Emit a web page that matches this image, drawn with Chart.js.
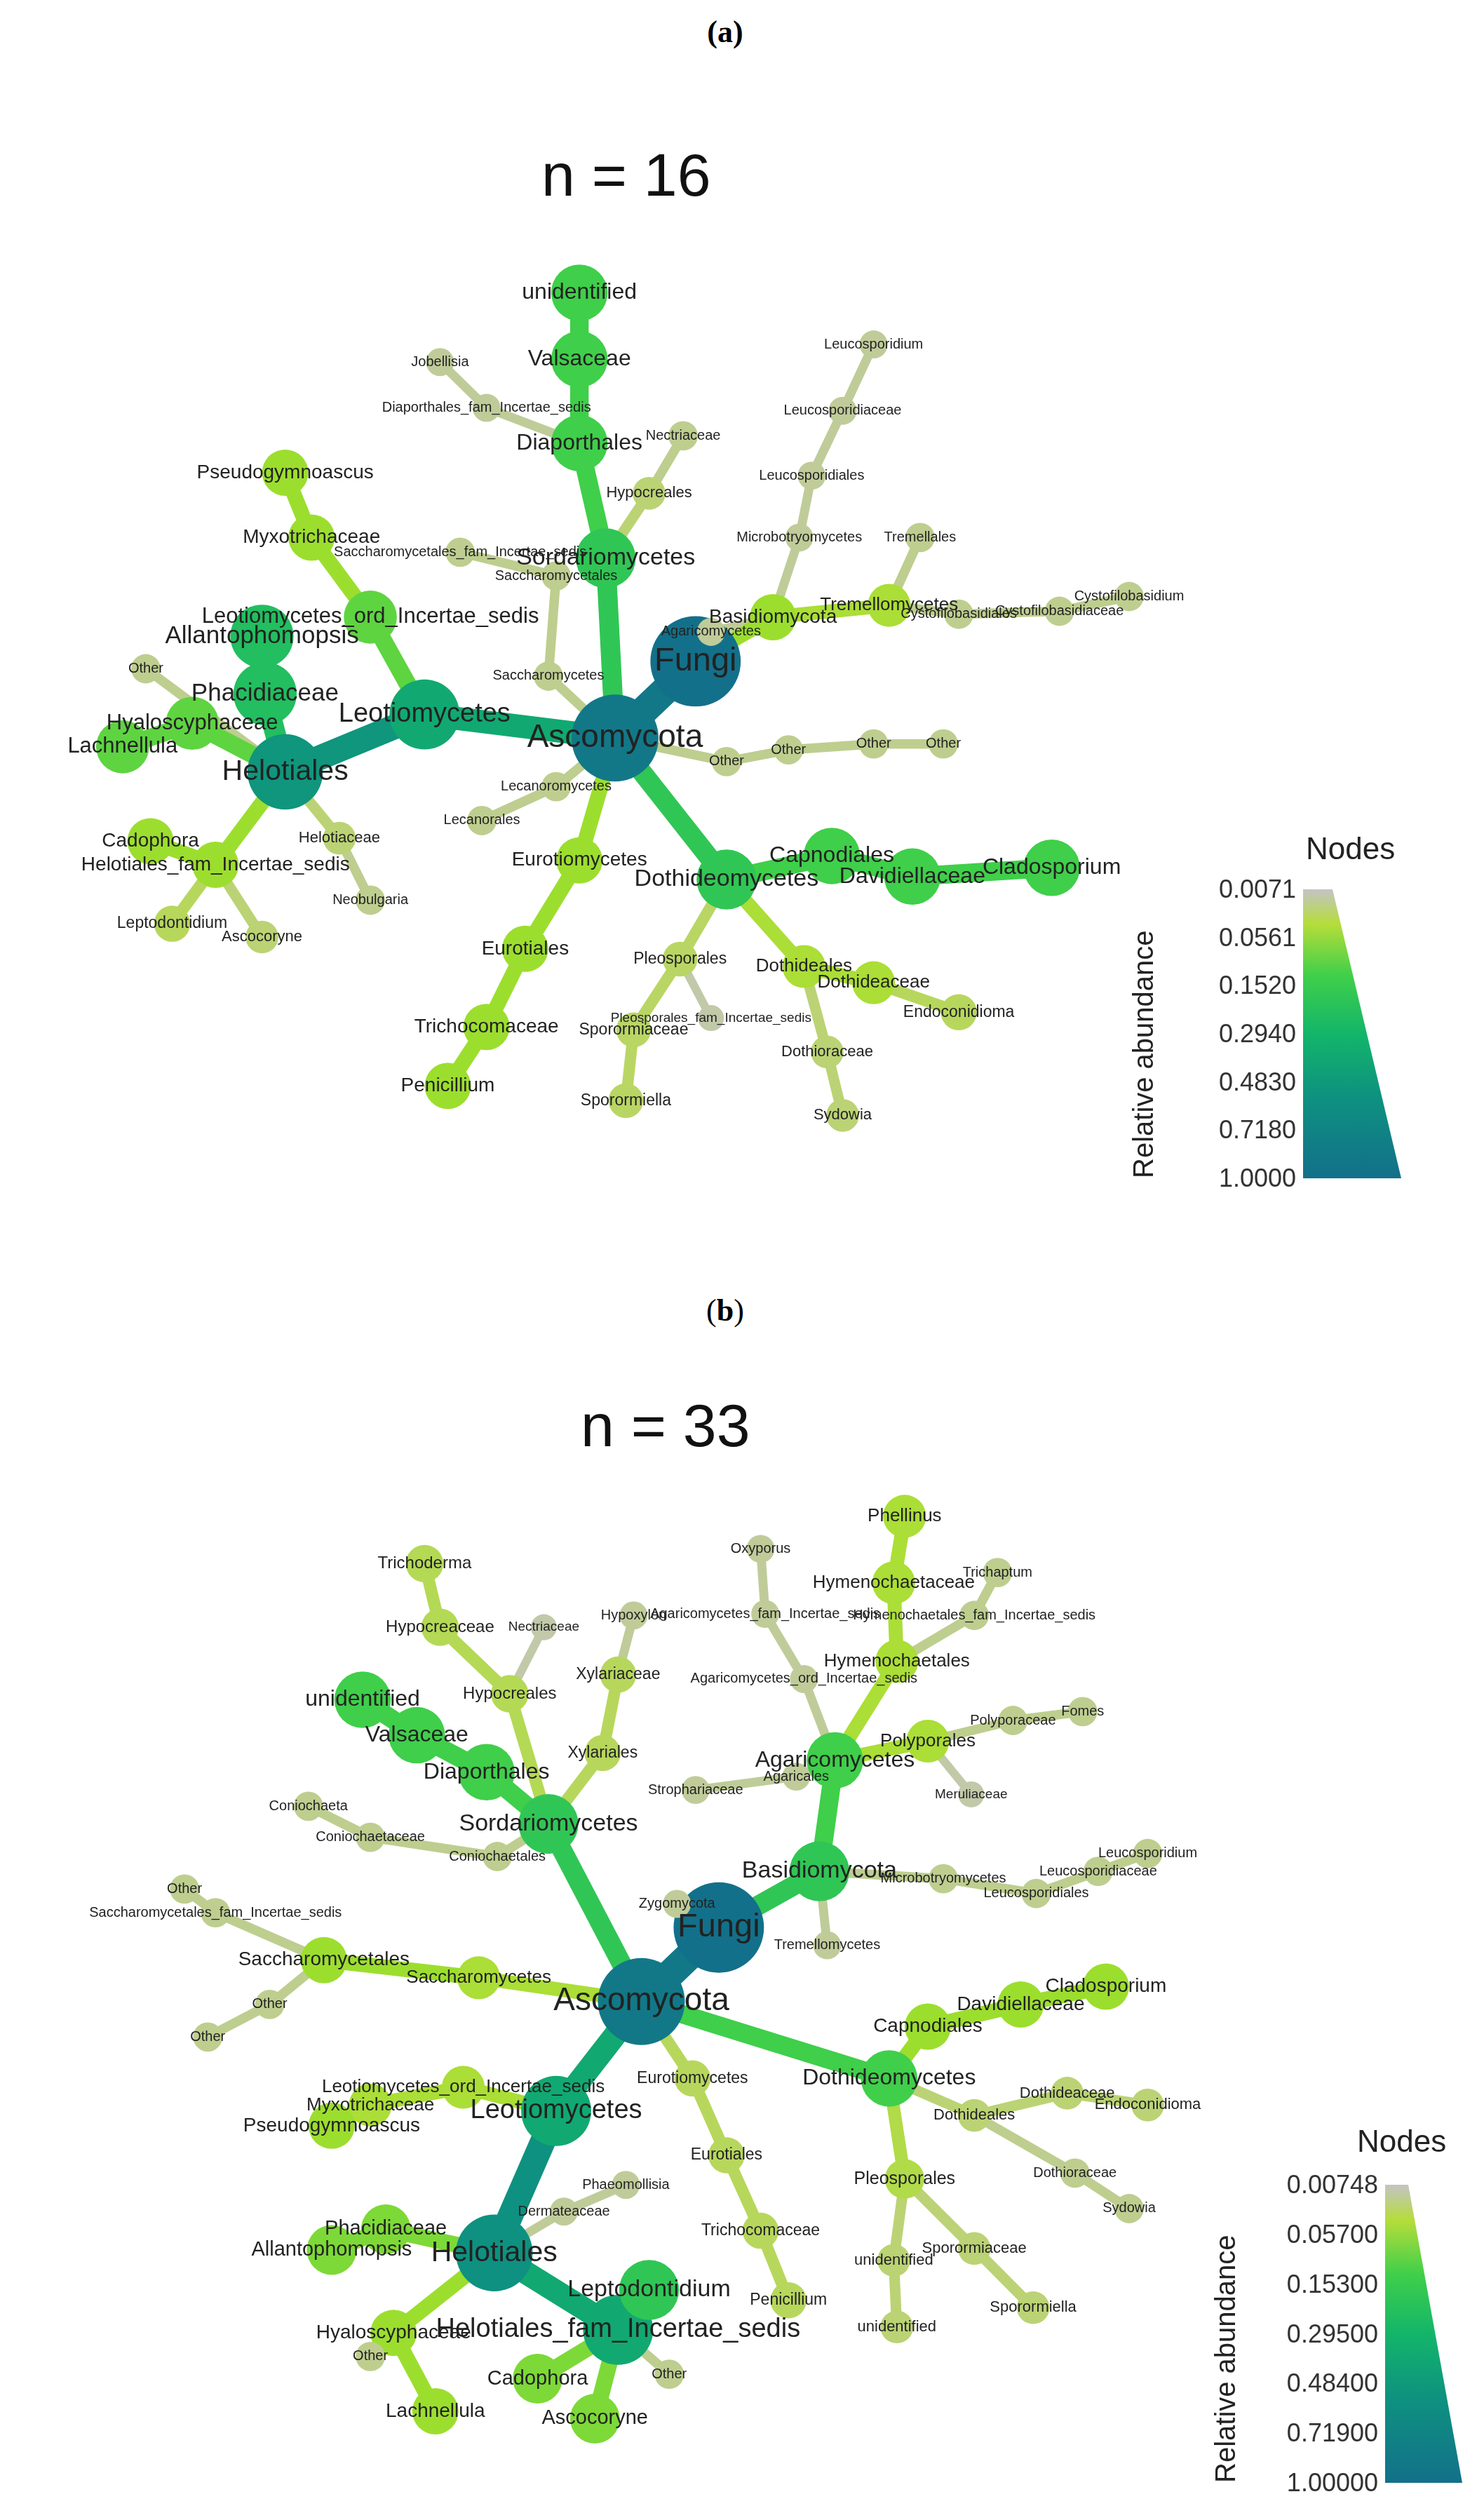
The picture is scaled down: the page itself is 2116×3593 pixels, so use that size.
<!DOCTYPE html>
<html lang="en">
<head>
<meta charset="UTF-8">
<title>Heat trees</title>
<script src="https://cdn.jsdelivr.net/npm/chart.js"></script>
<style>
  body { margin: 0; background: #fff; font-family: "Liberation Sans", Arial, sans-serif; }
  #page { position: relative; width: 2116px; height: 3593px; overflow: hidden; }
  .abs { position: absolute; }
  .panel { font-family: "Liberation Serif", serif; font-size: 44px; left: 0; width: 2068px; text-align: center; }
  .ntitle { font-size: 86px; color: #111; }
  .legTitle { font-size: 44px; color: #222; }
  .tick { font-size: 36px; color: #333; text-align: right; width: 200px; }
  .ylab { font-size: 40px; color: #222; transform: rotate(-90deg); transform-origin: left top; white-space: nowrap; }
  .bar { background: linear-gradient(to bottom, #c4c4c4 0%, #b5dd3a 12%, #3fcf4a 30%, #13b56a 50%, #0e9180 72%, #13708a 100%); }
</style>
</head>
<body>
<div id="page">
  <div class="abs panel" style="top:20px"><b>(a)</b></div>
  <div class="abs ntitle" style="left:772px;top:200px">n = 16</div>
  <canvas id="chartA" class="abs" style="left:0;top:206px" width="2116" height="1558"></canvas>

  <div class="abs panel" style="top:1843px">(<b>b</b>)</div>
  <div class="abs ntitle" style="left:828px;top:1983px">n = 33</div>
  <canvas id="chartB" class="abs" style="left:0;top:1971px" width="2116" height="1622"></canvas>
</div>
<script>
// ---- panel (a), n = 16 ----
const aNames = ["Fungi","Ascomycota","Basidiomycota","Sordariomycetes","Diaporthales","Valsaceae","unidentified",
  "Diaporthales_fam_Incertae_sedis","Jobellisia","Hypocreales","Nectriaceae","Saccharomycetes","Saccharomycetales",
  "Saccharomycetales_fam_Incertae_sedis","Leotiomycetes","Helotiales","Leotiomycetes_ord_Incertae_sedis","Myxotrichaceae",
  "Pseudogymnoascus","Phacidiaceae","Allantophomopsis","Hyaloscyphaceae","Lachnellula","Other","Helotiales_fam_Incertae_sedis",
  "Cadophora","Leptodontidium","Ascocoryne","Helotiaceae","Neobulgaria","Lecanoromycetes","Lecanorales","Eurotiomycetes",
  "Eurotiales","Trichocomaceae","Penicillium","Dothideomycetes","Capnodiales","Davidiellaceae","Cladosporium","Pleosporales",
  "Pleosporales_fam_Incertae_sedis","Sporormiaceae","Sporormiella","Dothideales","Dothideaceae","Endoconidioma","Dothioraceae",
  "Sydowia","Other","Other","Other","Other","Agaricomycetes","Microbotryomycetes","Leucosporidiales","Leucosporidiaceae",
  "Leucosporidium","Tremellomycetes","Tremellales","Cystofilobasidiales","Cystofilobasidiaceae","Cystofilobasidium"];
const aX = [420,368,470,362,345,345,345,285,255,390,412,325,330,268,245,155,210,172,155,142,140,95,50,65,110,68,82,140,190,210,
  330,282,345,310,285,260,440,508,560,650,410,430,380,375,490,535,590,505,515,440,480,535,580,430,487,495,515,535,545,565,590,655,700];
const aY = [410,462,380,340,262,205,160,238,207,296,257,420,352,336,446,485,380,326,282,432,393,452,468,415,548,532,588,597,530,572,
  495,518,545,605,658,698,558,542,556,550,612,652,660,708,617,628,648,675,718,478,470,466,466,390,326,284,240,195,372,326,378,376,366];
const aParent = [-1,0,0,1,3,4,5,4,7,3,9,1,11,12,1,14,14,16,17,15,19,15,21,15,15,24,24,24,15,28,1,30,1,32,33,34,1,36,37,38,36,40,40,42,
  36,44,45,44,47,1,49,50,51,2,2,54,55,56,2,58,58,60,61];
const aLevel = [1,.95,.35,.55,.5,.5,.5,.08,.08,.15,.1,.1,.1,.1,.7,.78,.45,.35,.35,.6,.6,.45,.45,.1,.35,.35,.2,.15,.15,.1,.1,.1,.35,.35,
  .35,.35,.55,.5,.5,.5,.18,.05,.18,.18,.3,.3,.2,.15,.15,.1,.1,.1,.1,.08,.08,.08,.08,.08,.3,.1,.1,.1,.1];
const aTicks = ["0.0071","0.0561","0.1520","0.2940","0.4830","0.7180","1.0000"];

// ---- panel (b), n = 33 ----
const bNames = ["Fungi","Ascomycota","Basidiomycota","Zygomycota","Tremellomycetes","Agaricomycetes","Agaricales","Strophariaceae",
  "Hymenochaetales","Hymenochaetaceae","Phellinus","Hymenochaetales_fam_Incertae_sedis","Trichaptum","Agaricomycetes_ord_Incertae_sedis",
  "Agaricomycetes_fam_Incertae_sedis","Oxyporus","Polyporales","Polyporaceae","Fomes","Meruliaceae","Microbotryomycetes",
  "Leucosporidiales","Leucosporidiaceae","Leucosporidium","Sordariomycetes","Diaporthales","Valsaceae","unidentified","Xylariales",
  "Xylariaceae","Hypoxylon","Hypocreales","Hypocreaceae","Trichoderma","Nectriaceae","Coniochaetales","Coniochaetaceae","Coniochaeta",
  "Saccharomycetes","Saccharomycetales","Saccharomycetales_fam_Incertae_sedis","Other","Other","Other","Leotiomycetes","Helotiales",
  "Leotiomycetes_ord_Incertae_sedis","Myxotrichaceae","Pseudogymnoascus","Phacidiaceae","Allantophomopsis","Dermateaceae",
  "Phaeomollisia","Hyaloscyphaceae","Lachnellula","Other","Helotiales_fam_Incertae_sedis","Leptodontidium","Cadophora","Ascocoryne",
  "Other","Eurotiomycetes","Eurotiales","Trichocomaceae","Penicillium","Dothideomycetes","Capnodiales","Davidiellaceae","Cladosporium",
  "Dothideales","Dothideaceae","Endoconidioma","Dothioraceae","Sydowia","Pleosporales","Sporormiaceae","Sporormiella","unidentified","unidentified"];
const bX = [435,385,500,408,505,510,485,420,550,548,555,600,615,490,465,462,570,625,670,598,580,640,680,712,325,285,240,205,360,370,380,
  300,255,245,322,292,210,170,280,180,110,90,145,105,330,290,270,210,185,220,185,335,375,225,252,210,370,390,318,355,403,418,440,462,480,
  545,570,630,685,600,660,712,665,700,555,600,638,548,550];
const bY = [1198,1248,1160,1182,1210,1085,1096,1105,1018,965,920,987,958,1030,986,942,1072,1058,1052,1108,1165,1175,1160,1148,1128,1093,
  1068,1044,1080,1027,987,1040,995,952,995,1150,1137,1116,1232,1220,1188,1172,1250,1272,1322,1418,1306,1318,1332,1402,1416,1390,1372,
  1472,1525,1488,1470,1443,1503,1530,1500,1300,1352,1403,1450,1300,1265,1250,1238,1325,1310,1318,1364,1388,1368,1415,1455,1423,1468];
const bParent = [-1,0,0,0,2,2,5,6,5,8,9,8,11,5,13,14,5,16,17,16,2,20,21,22,1,24,25,26,24,28,29,24,31,32,31,24,35,36,1,38,39,40,39,42,1,44,
  44,46,47,45,49,45,51,45,53,53,45,56,56,56,56,1,61,62,63,1,65,66,67,65,69,70,69,72,65,74,75,74,77];
const bLevel = [1,.95,.55,.08,.08,.5,.08,.08,.3,.3,.3,.1,.1,.08,.08,.08,.3,.1,.1,.05,.1,.1,.1,.1,.55,.5,.5,.5,.2,.2,.08,.22,.22,.22,.05,.1,
  .1,.1,.3,.35,.1,.1,.1,.1,.7,.8,.3,.3,.35,.4,.4,.08,.08,.35,.35,.1,.7,.55,.4,.4,.1,.2,.2,.2,.2,.5,.35,.35,.35,.15,.15,.15,.1,.1,.25,.15,
  .15,.15,.15];
const bTicks = ["0.00748","0.05700","0.15300","0.29500","0.48400","0.71900","1.00000"];

const SCALE = 2.3;
const stops = [[0,[196,196,196]],[0.18,[185,214,100]],[0.33,[168,224,42]],[0.5,[63,207,74]],[0.65,[19,181,106]],[0.8,[14,145,128]],[1,[19,112,138]]];
function colorOf(t) {
  for (let i = 1; i < stops.length; i++) {
    if (t <= stops[i][0]) {
      const [t0, c0] = stops[i - 1], [t1, c1] = stops[i];
      const f = (t - t0) / (t1 - t0);
      return 'rgb(' + c0.map((c, k) => Math.round(c + (c1[k] - c) * f)).join(',') + ')';
    }
  }
  return 'rgb(19,112,138)';
}

const labelPlugin = {
  id: 'nodeLabels',
  afterDatasetsDraw(chart) {
    const ds = chart.data.datasets.find(d => d.isNodes);
    const meta = chart.getDatasetMeta(chart.data.datasets.indexOf(ds));
    const ctx = chart.ctx;
    ctx.save();
    ctx.textAlign = 'center';
    ctx.textBaseline = 'middle';
    ctx.fillStyle = '#222';
    meta.data.forEach((pt, i) => {
      const t = ds.levels[i];
      ctx.font = Math.round((7.5 + 13 * t) * SCALE) + 'px "Liberation Sans", Arial, sans-serif';
      ctx.fillText(ds.names[i], pt.x, pt.y);
    });
    ctx.restore();
  }
};

function heatTree(id, names, xs, ys, parents, levels, yMin, yMax) {
  const datasets = [];
  names.forEach((n, i) => {
    if (parents[i] < 0) return;
    const p = parents[i];
    datasets.push({
      type: 'line', order: 2,
      data: [{ x: xs[p], y: ys[p] }, { x: xs[i], y: ys[i] }],
      borderColor: colorOf(levels[i]),
      borderWidth: (4.5 + 14 * levels[i]) * SCALE,
      borderCapStyle: 'round',
      pointRadius: 0
    });
  });
  datasets.push({
    type: 'scatter', order: 1, isNodes: true, names: names, levels: levels,
    data: names.map((n, i) => ({ x: xs[i], y: ys[i] })),
    pointRadius: levels.map(t => (7 + 21 * t) * SCALE),
    backgroundColor: levels.map(colorOf),
    borderWidth: 0
  });
  new Chart(document.getElementById(id), {
    data: { datasets },
    options: {
      responsive: false, animation: false, devicePixelRatio: 1,
      layout: { padding: 0 },
      plugins: { legend: { display: false }, tooltip: { enabled: false } },
      scales: {
        x: { type: 'linear', min: 0, max: 900, display: false },
        y: { type: 'linear', min: yMin, max: yMax, reverse: true, display: false }
      }
    },
    plugins: [labelPlugin]
  });
}

heatTree('chartA', aNames, aX, aY, aParent, aLevel, 90, 770);
heatTree('chartB', bNames, bX, bY, bParent, bLevel, 860, 1568);

// legends (HTML)
function legend(ticks, left, top, w, h, titleLeft, titleTop) {
  const page = document.getElementById('page');
  const add = (cls, style, text) => {
    const d = document.createElement('div');
    d.className = 'abs ' + cls;
    d.setAttribute('style', style);
    if (text) d.textContent = text;
    page.appendChild(d);
  };
  add('legTitle', `left:${titleLeft}px;top:${titleTop}px`, 'Nodes');
  add('bar', `left:${left}px;top:${top}px;width:${w}px;height:${h}px;clip-path:polygon(0 0,30% 0,100% 100%,0 100%)`);
  ticks.forEach((t, i) => {
    const y = top + h * i / (ticks.length - 1) - 21;
    add('tick', `left:${left - 210}px;top:${y}px`, t);
  });
  add('ylab', `left:${left - 250}px;top:${top + h}px`, 'Relative abundance');
}
legend(aTicks, 1858, 1268, 140, 412, 1862, 1185);
legend(bTicks, 1975, 3115, 110, 425, 1935, 3028);
</script>
</body>
</html>
